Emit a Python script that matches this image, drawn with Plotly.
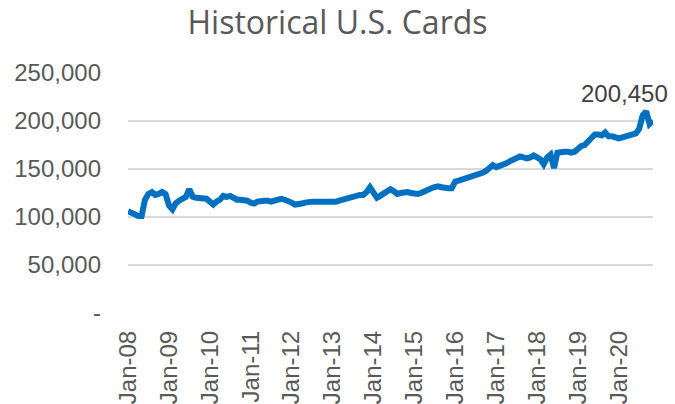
import plotly.graph_objects as go
import pandas as pd

# Monthly U.S. cards, Jan-2008 .. Nov-2020
start_month = "2008-01-01"
cards = [
    106, 105, 103, 101, 101, 118, 124, 126, 123, 124, 126, 124,   # 2008
    112, 108, 114, 117, 119, 121, 129, 121, 120, 120, 119, 119,   # 2009
    116, 113, 116, 118, 122, 121, 122, 120, 118, 118, 118, 117,   # 2010
    115, 114, 116, 117, 117, 117, 116, 117, 118, 119, 118, 117,   # 2011
    115, 113, 113, 114, 115, 116, 116, 116, 116, 115, 115, 116,   # 2012
    116, 116, 117, 118, 119, 120, 122, 122, 123, 123, 126, 131,   # 2013
    124, 120, 122, 124, 126, 129, 127, 124, 125, 126, 126, 125,   # 2014
    124, 124, 125, 127, 128, 130, 131, 132, 131, 130, 130, 130,   # 2015
    137, 138, 139, 140, 142, 143, 144, 145, 146, 148, 152, 154,   # 2016
    152, 153, 155, 156, 158, 160, 162, 163, 162, 161, 162, 164,   # 2017
    162, 160, 155, 162, 165, 151, 167, 168, 168, 168, 167, 168,   # 2018
    172, 174, 175, 179, 182, 186, 186, 185, 188, 184, 184, 183,   # 2019
    182, 183, 184, 184, 185, 187, 192, 206, 210, 197, 200.45,     # 2020
]
cards = [v * 1000 for v in cards]
months = pd.date_range(start_month, periods=len(cards), freq="MS")

tick_years = list(range(2008, 2021))
tick_vals = [pd.Timestamp(f"{y}-01-01") for y in tick_years]
tick_text = [f"Jan-{str(y)[2:]}" for y in tick_years]

y_ticks = [0, 50000, 100000, 150000, 200000, 250000]
y_text = ["-", "50,000", "100,000", "150,000", "200,000", "250,000"]

last_label = "200,450"

fig = go.Figure()
fig.add_trace(go.Scatter(
    x=months, y=cards, mode="lines",
    line=dict(color="#0070C0", width=6),
    hoverinfo="skip",
))

fig.add_annotation(
    x=months[-1], y=cards[-1], text=last_label, showarrow=False,
    xanchor="right", yanchor="middle", xshift=17, yshift=27,
    font=dict(family="Liberation Sans, Arial", size=24, color="#404040"),
)

fig.update_layout(
    width=675, height=404,
    margin=dict(l=128, r=22, t=73, b=91, autoexpand=False),
    paper_bgcolor="white", plot_bgcolor="white",
    showlegend=False,
    title=dict(
        text="Historical U.S. Cards",
        x=0.5, xref="container", xanchor="center",
        y=1 - 23 / 404, yref="container", yanchor="middle",
        font=dict(family="Open Sans", size=32, color="#595959"),
    ),
    font=dict(family="Liberation Sans, Arial", size=24, color="#595959"),
)

fig.update_xaxes(
    range=[months[0], months[-1]], automargin=False,
    tickmode="array", tickvals=tick_vals, ticktext=tick_text,
    tickangle=-90, showgrid=False, zeroline=False, showline=False,
    ticks="", ticklabelstandoff=12,
    tickfont=dict(size=24, color="#595959"),
)
fig.update_yaxes(
    range=[0, 250000], automargin=False,
    tickmode="array", tickvals=y_ticks, ticktext=y_text,
    showgrid=True, gridcolor="#D9D9D9", gridwidth=1.5,
    zeroline=False, showline=False, ticks="",
    ticklabelstandoff=26,
    tickfont=dict(size=24, color="#595959"),
)

fig.write_html(
    "out.html",
    config={"displayModeBar": False, "staticPlot": True},
    post_script="document.body.style.margin='0';document.body.style.padding='0';",
)
